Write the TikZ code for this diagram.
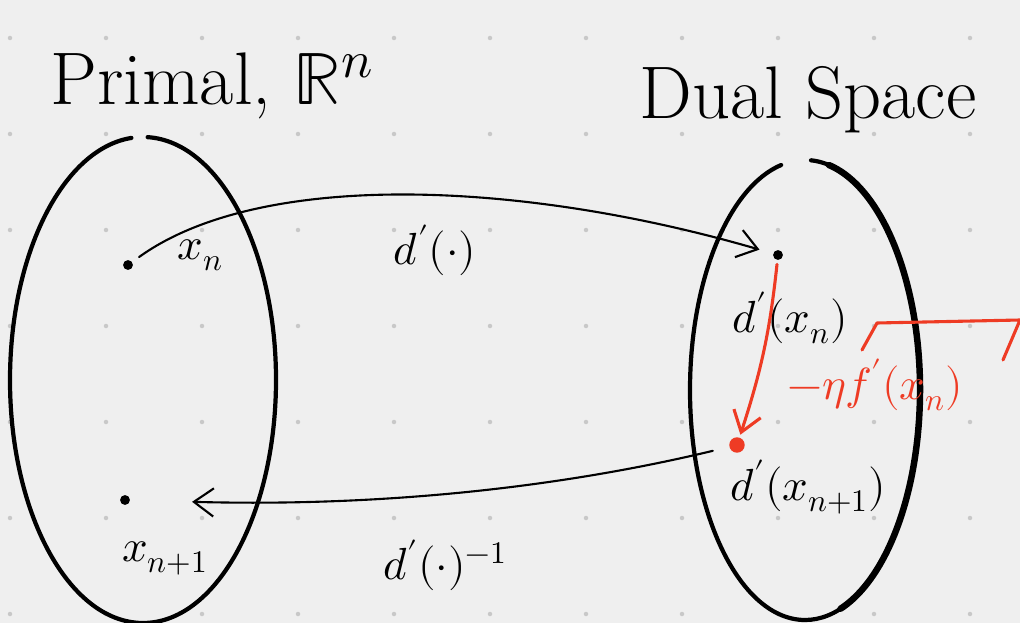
\documentclass[tikz,border=0pt]{standalone}
\usepackage{unicode-math}
\setmathfont{Latin Modern Math}
\usetikzlibrary{arrows.meta}

\definecolor{paper}{HTML}{EFEFEF}
\definecolor{griddot}{HTML}{C8C8C8}
\definecolor{penred}{HTML}{EE3B24}

\begin{document}
\begin{tikzpicture}[x=0.025cm, y=-0.025cm, >={Straight Barb[length=14pt, width=20pt]}, line cap=round, line join=round]

	% --- Parametri Geometrici ---
	\def\primX{143}
	\def\primY{380}
	\def\primRx{133}
	\def\primRy{243}
	\def\dualX{805}
	\def\dualY{390}
	\def\dualRx{115}
	\def\dualRy{230}

	% --- Stili ---
	\tikzset{
		space/.style={draw=black, line width=3pt},
		title/.style={font=\fontsize{53}{62}\selectfont},
		label/.style={font=\fontsize{32}{38}\selectfont, inner sep=1pt},
		dot/.style={circle, fill=black, inner sep=0pt, minimum size=7pt},
		reddot/.style={circle, fill=penred, inner sep=0pt, minimum size=11pt},
		map/.style={->, draw=black, line width=1.5pt},
		gradstep/.style={->, draw=penred, line width=2.2pt},
		redline/.style={draw=penred, line width=2.2pt}
	}

	% --- Foglio (sfondo puntinato) ---
	\fill[paper] (0,0) rectangle (1020,623);
	\useasboundingbox (0,0) rectangle (1020,623);
	\foreach \gx in {0,...,10}
		\foreach \gy in {0,...,6}
			\fill[griddot] ({10+96*\gx},{38+96*\gy}) circle (1.6pt);

	% --- Titoli ---
	\node[title] (primal) at (212,86) {Primal, $\mathbb{R}^n$};
	\node[title] (dual) at (808,100) {Dual Space};

	% --- Spazi (ovali) ---
	\draw[space] ({\primX+\primRx*cos(-88)},{\primY+\primRy*sin(-88)})
		arc[start angle=-88, end angle=265, x radius=\primRx, y radius=\primRy];
	\draw[space] ({\dualX+\dualRx*cos(-87)},{\dualY+\dualRy*sin(-87)})
		arc[start angle=-87, end angle=258, x radius=\dualRx, y radius=\dualRy];
	\draw[space, line width=4.6pt] ({\dualX+\dualRx*cos(-78)},{\dualY+\dualRy*sin(-78)})
		arc[start angle=-78, end angle=72, x radius=\dualRx, y radius=\dualRy];

	% --- Punti ---
	\node[dot] (xn) at (128,265) {};
	\node[dot] (xnn) at (125,500) {};
	\node[dot] (dxn) at (778,255) {};
	\node[reddot] (dxnn) at (737,445) {};

	% --- Etichette ---
	\node[label] (labxn) at (200,255) {$x_n$};
	\node[label] (labxnn) at (165,558) {$x_{n+1}$};
	\node[label] (labdxn) at (790,318) {$d'(x_n)$};
	\node[label] (labdxnn) at (808,487) {$d'(x_{n+1})$};
	\node[label] (labmap) at (435,250) {$d'(\cdot)$};
	\node[label] (labinv) at (445,565) {$d'(\cdot)^{-1}$};
	\node[label, text=penred] (labgrad) at (875,385) {$-\eta f'(x_n)$};

	% --- Mappe ---
	\draw[map, shorten <=6pt, shorten >=10pt] (xn) .. controls (260,170) and (520,180) .. (dxn);
	\draw[map, shorten <=12pt, shorten >=44pt] (dxnn) .. controls (600,478) and (420,508) .. (xnn);

	% --- Passo del gradiente ---
	\draw[gradstep, shorten <=3pt, shorten >=2pt] (dxn) to[bend left=6] (dxnn);
	\draw[redline] (862,350) -- (877,323) -- (1020,320) -- (1003,360);

\end{tikzpicture}
\end{document}
